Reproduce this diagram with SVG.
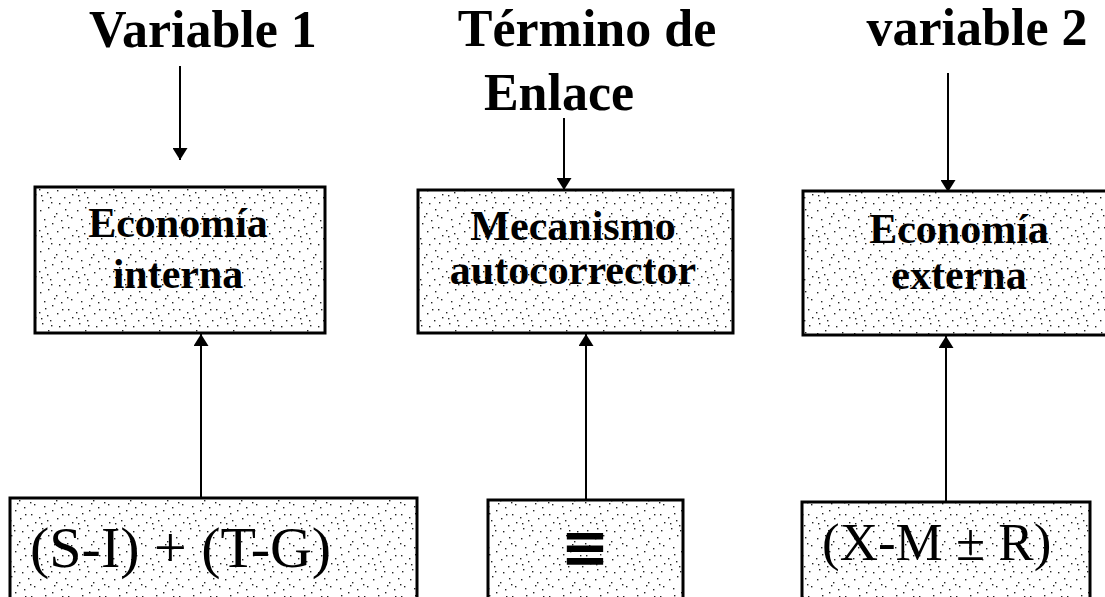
<svg xmlns="http://www.w3.org/2000/svg" width="1105" height="597" viewBox="0 0 1105 597">
<style>
.title{font-family:"Liberation Serif","Times New Roman",serif;font-weight:bold;font-size:52px;fill:#000;text-anchor:middle}
.box{fill:url(#stipple);stroke:#000;stroke-width:3}
.lbl{font-family:"Liberation Serif","Times New Roman",serif;font-weight:bold;font-size:42px;fill:#000;text-anchor:middle}
.eq{font-family:"Liberation Serif","Times New Roman",serif;font-weight:normal;fill:#000}
.conn{stroke:#000;stroke-width:2;fill:none;marker-end:url(#arrow)}
</style>
<defs>
<pattern id="stipple" patternUnits="userSpaceOnUse" width="37" height="41">
<rect width="37" height="41" fill="#fff"/>
<g fill="#222">
<rect x="3" y="5" width="1.4" height="1.4"/><rect x="11" y="2" width="1.4" height="1.4"/>
<rect x="19" y="8" width="1.4" height="1.4"/><rect x="28" y="4" width="1.4" height="1.4"/>
<rect x="34" y="12" width="1.4" height="1.4"/><rect x="7" y="14" width="1.4" height="1.4"/>
<rect x="15" y="18" width="1.4" height="1.4"/><rect x="24" y="15" width="1.4" height="1.4"/>
<rect x="31" y="22" width="1.4" height="1.4"/><rect x="2" y="25" width="1.4" height="1.4"/>
<rect x="10" y="28" width="1.4" height="1.4"/><rect x="20" y="26" width="1.4" height="1.4"/>
<rect x="27" y="33" width="1.4" height="1.4"/><rect x="35" y="30" width="1.4" height="1.4"/>
<rect x="5" y="36" width="1.4" height="1.4"/><rect x="14" y="38" width="1.4" height="1.4"/>
<rect x="22" y="39" width="1.4" height="1.4"/><rect x="32" y="38" width="1.4" height="1.4"/>
<rect x="17" y="11" width="1.4" height="1.4"/><rect x="8" y="21" width="1.4" height="1.4"/>
<rect x="25" y="22" width="1.4" height="1.4"/><rect x="13" y="33" width="1.4" height="1.4"/>
<rect x="30" y="10" width="1.4" height="1.4"/><rect x="4" y="31" width="1.4" height="1.4"/>
</g>
</pattern>
<marker id="arrow" viewBox="0 0 12 15" refX="12" refY="7.5" markerWidth="12" markerHeight="15" markerUnits="userSpaceOnUse" orient="auto">
<path d="M0,0 L12,7.5 L0,15 z" fill="#000"/>
</marker>
</defs>

<g id="title-variable1"><text class="title" x="203" y="47">Variable 1</text></g>
<g id="title-termino"><text class="title" x="587" y="46">Término de</text><text class="title" x="559" y="110">Enlace</text></g>
<g id="title-variable2"><text class="title" x="977" y="45">variable 2</text></g>

<g id="node-economia-interna">
<rect class="box" x="35" y="187" width="290" height="146"/>
<text class="lbl" x="178" y="237">Economía</text>
<text class="lbl" x="178" y="288">interna</text>
</g>
<g id="node-mecanismo">
<rect class="box" x="418" y="190" width="315" height="143"/>
<text class="lbl" x="573" y="240" font-size="39">Mecanismo</text>
<text class="lbl" x="573" y="284" font-size="39">autocorrector</text>
</g>
<g id="node-economia-externa">
<rect class="box" x="803" y="191" width="312" height="144"/>
<text class="lbl" x="959" y="243">Economía</text>
<text class="lbl" x="959" y="289">externa</text>
</g>
<g id="node-sitg">
<rect class="box" x="10" y="498" width="407" height="120"/>
<text class="eq" x="30" y="567" font-size="58">(S-I) + (T-G)</text>
</g>
<g id="node-equiv">
<rect class="box" x="488" y="500" width="195" height="120"/>
<text x="585" y="567" font-family="DejaVu Sans, sans-serif" font-weight="bold" font-size="58" text-anchor="middle">≡</text>
</g>
<g id="node-xmr">
<rect class="box" x="802" y="502" width="288" height="120"/>
<text class="eq" x="822" y="560" font-size="53">(X-M ± R)</text>
</g>

<g id="connectors">
<line class="conn" x1="180" y1="66" x2="180" y2="160"/>
<line class="conn" x1="564" y1="118" x2="564" y2="190"/>
<line class="conn" x1="948" y1="73" x2="948" y2="192"/>
<line class="conn" x1="201" y1="498" x2="201" y2="334"/>
<line class="conn" x1="586" y1="500" x2="586" y2="334"/>
<line class="conn" x1="946" y1="502" x2="946" y2="336"/>
</g>
</svg>
